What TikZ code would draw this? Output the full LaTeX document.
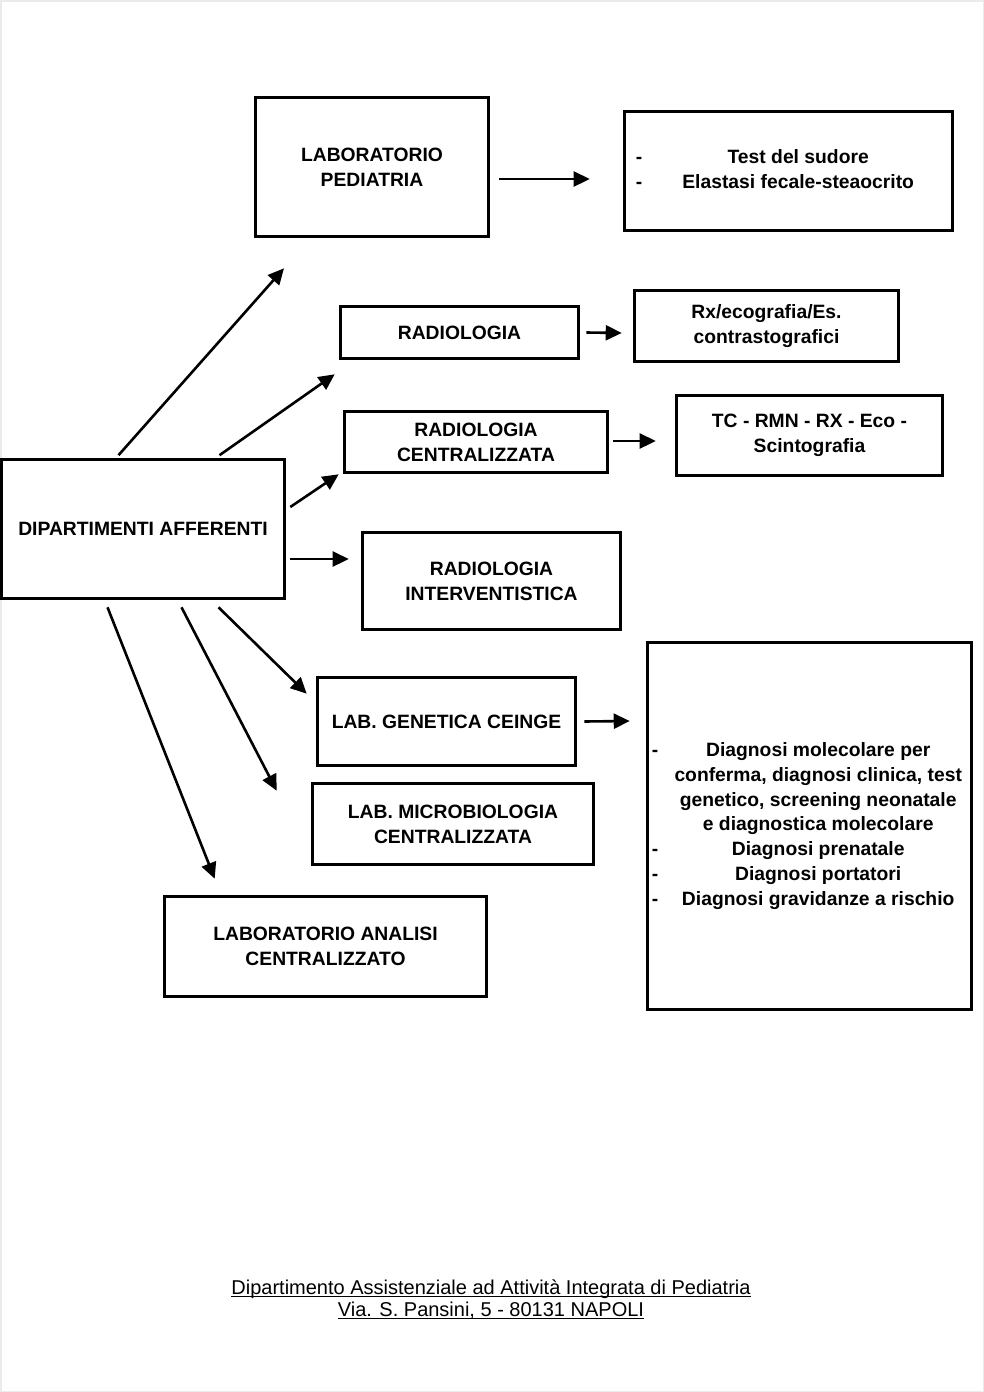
\documentclass[tikz,border=0pt]{standalone}
\usepackage{fontspec}
\usepackage{array}
\setmainfont{Liberation Sans}
\usetikzlibrary{arrows.meta}
\newcommand\footul[1]{\setbox0\hbox{#1}\rlap{\rule[-2.4pt]{\wd0}{1pt}}\box0}

\begin{document}
\begin{tikzpicture}[x=1pt, y=-1pt,
    box/.style={draw, line width=2.6pt, inner sep=0pt, align=center,
      font=\bfseries\fontsize{19.3}{24.8}\selectfont},
    arr/.style={line width=2.6pt, -{Triangle[length=16pt,width=15pt]}}]
            \useasboundingbox (0,0) rectangle (984,1392);
            \draw[black!8, line width=1.5pt] (0.75,0.75) rectangle (983.25,1391.25);

            % boxes
            \node[box, minimum width=233pt, minimum height=139pt] (labped) at (372,167) {LABORATORIO\\PEDIATRIA};
            \node[box, minimum width=328pt, minimum height=119pt] (test) at (788.5,171)
                {\begin{tabular}{@{}l@{\hspace{13pt}}>{\centering\arraybackslash}p{286pt}@{}}
                 - & Test del sudore\\
                 - & Elastasi fecale-steaocrito
                 \end{tabular}};
            \node[box, minimum width=238pt, minimum height=52pt] (radio) at (459.5,332.5) {RADIOLOGIA};
            \node[box, minimum width=264pt, minimum height=71pt] (rx) at (766.5,326) {Rx/ecografia/Es.\\contrastografici};
            \node[box, minimum width=263pt, minimum height=61pt] (radcent) at (476,442) {RADIOLOGIA\\CENTRALIZZATA};
            \node[box, minimum width=266pt, minimum height=80pt] (tc) at (809.5,435.5) {TC - RMN - RX - Eco -\\Scintografia};
            \node[box, minimum width=283pt, minimum height=139pt] (dip) at (143,529) {DIPARTIMENTI AFFERENTI};
            \node[box, minimum width=258pt, minimum height=97pt] (radint) at (491.5,581) {RADIOLOGIA\\INTERVENTISTICA};
            \node[box, minimum width=258pt, minimum height=88pt] (gen) at (446.5,721.5) {LAB. GENETICA CEINGE};
            \node[box, minimum width=324pt, minimum height=367pt] (diag) at (809.5,826)
                {\begin{tabular}{@{}l@{\hspace{11pt}}>{\centering\arraybackslash}p{298pt}@{}}
                 - & Diagnosi molecolare per\par conferma, diagnosi clinica, test\par genetico, screening neonatale\par e diagnostica molecolare\\
                 - & Diagnosi prenatale\\
                 - & Diagnosi portatori\\
                 - & Diagnosi gravidanze a rischio
                 \end{tabular}};
            \node[box, minimum width=281pt, minimum height=81pt] (micro) at (453,824) {LAB. MICROBIOLOGIA\\CENTRALIZZATA};
            \node[box, minimum width=322pt, minimum height=100pt] (analisi) at (325.5,946.5) {LABORATORIO ANALISI\\CENTRALIZZATO};

            % arrows
            \draw[arr] ([xshift=9.5pt,yshift=-12pt]labped.east) -- ([xshift=-33.5pt,yshift=-8pt]test.west);
            \draw[arr] ([xshift=6.5pt]radio.east) -- ([xshift=-11.5pt,yshift=-7pt]rx.west);
            \draw[arr] ([xshift=4.5pt,yshift=1pt]radcent.east) -- ([xshift=-19.5pt,yshift=-5.5pt]tc.west);
            \draw[arr] ([xshift=7.5pt]gen.east) -- ([xshift=-16.5pt,yshift=105pt]diag.west);

            \draw[arr] ([xshift=-24.5pt,yshift=3pt]dip.north) -- ([xshift=-88pt,yshift=-30.5pt]labped.south);
            \draw[arr] ([xshift=76.5pt,yshift=3pt]dip.north) -- ([xshift=-4.5pt,yshift=-14.5pt]radio.south west);
            \draw[arr] ([xshift=4.5pt,yshift=22pt]dip.east) -- ([xshift=-4.5pt,yshift=-0.5pt]radcent.south west);
            \draw[arr] ([xshift=4.5pt,yshift=-30pt]dip.east) -- ([xshift=-12.5pt,yshift=22pt]radint.west);
            \draw[arr] ([xshift=75.5pt,yshift=-7.5pt]dip.south) -- ([xshift=-9.5pt,yshift=-17.5pt]gen.north west);
            \draw[arr] ([xshift=38.5pt,yshift=-7.5pt]dip.south) -- ([xshift=-34.5pt,yshift=-8.5pt]micro.north west);
            \draw[arr] ([xshift=-35.5pt,yshift=-7.5pt]dip.south) -- ([xshift=51.5pt,yshift=16.5pt]analisi.north west);

            \node[align=center, font=\fontsize{20}{22}\selectfont] (footer) at (491,1299)
                {\footul{Dipartimento Assistenziale ad Attività Integrata di Pediatria}\\
                 \footul{Via. S. Pansini, 5 - 80131 NAPOLI}};
        \end{tikzpicture}
\end{document}
